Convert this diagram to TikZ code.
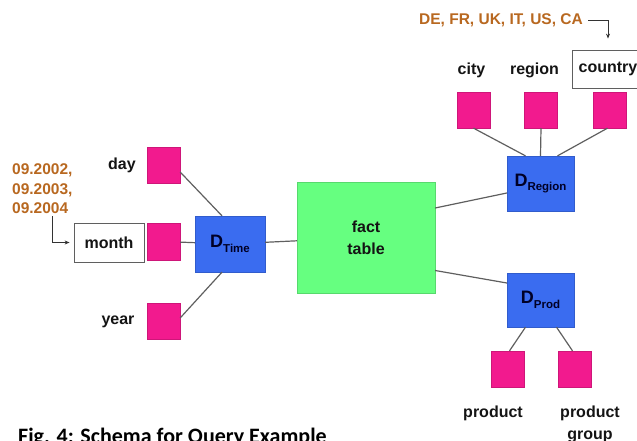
\documentclass[tikz,border=0pt]{standalone}
\usepackage{fontspec}
\setmainfont{Liberation Sans}
\newfontfamily\capfont{Carlito}
\usetikzlibrary{arrows.meta}
\definecolor{factgreen}{RGB}{102,255,128}
\definecolor{dimblue}{RGB}{58,108,240}
\definecolor{attrpink}{RGB}{242,26,142}
\definecolor{valorange}{RGB}{184,104,32}
\definecolor{linegray}{RGB}{95,95,95}
\definecolor{txtdark}{RGB}{20,20,20}
\begin{document}
\begin{tikzpicture}[x=1pt,y=-1pt,
  fact/.style={rectangle,fill=factgreen,draw=factgreen!85!black,line width=0.3pt,minimum width=138pt,minimum height=111pt,inner sep=0pt,align=center,font=\fontsize{16}{22}\selectfont\bfseries,text=txtdark},
  dimbox/.style={rectangle,fill=dimblue,draw=dimblue!85!black,line width=0.3pt,minimum width=68pt,minimum height=55pt,inner sep=0pt,text=black!85!blue},
  attr/.style={rectangle,fill=attrpink,draw=attrpink!85!black,line width=0.3pt,minimum width=33pt,minimum height=36pt,inner sep=0pt},
  lbl/.style={font=\fontsize{16}{22}\selectfont\bfseries,text=txtdark,inner sep=0pt,align=center},
  framebox/.style={rectangle,draw=linegray,line width=0.8pt,fill=white,inner sep=0pt,font=\fontsize{16}{22}\selectfont\bfseries,text=txtdark},
  vals/.style={font=\fontsize{15.5}{19.5}\selectfont\bfseries,text=valorange,inner sep=0pt,align=left},
  conn/.style={draw=linegray,line width=1.2pt},
  pointer/.style={draw=black!80,line width=0.9pt,-{Stealth[length=5pt,width=4pt]}}
]
\useasboundingbox (0,0) rectangle (637,441);

% fact table
\node[fact] (fact) at (366,237.5) {fact\\table};

% dimensions
\newcommand{\dimlabel}[1]{{\fontsize{18}{18}\selectfont\bfseries D}\raisebox{-4.5pt}{\fontsize{11.5}{11.5}\selectfont\bfseries #1}}
\node[dimbox,minimum width=70pt,minimum height=56pt] (dtime) at (230,244) {\dimlabel{Time}};
\node[dimbox,minimum width=67pt] (dregion) at (540.5,183.5) {\dimlabel{Region}};
\node[dimbox,minimum width=67pt,minimum height=54pt] (dprod) at (540.5,300) {\dimlabel{Prod}};

% time attributes
\node[attr] (day) at (163.5,165) {};
\node[attr,minimum height=37pt] (monthsq) at (163.5,241.5) {};
\node[attr] (year) at (163.5,321) {};
\node[lbl] (daylbl) at (122,165) {day};
\node[lbl] (yearlbl) at (118,322) {year};
\node[framebox,minimum width=70pt,minimum height=39pt] (month) at (109,242.5) {month};

% region attributes
\node[attr] (city) at (473.5,110) {};
\node[attr] (region) at (541,110) {};
\node[attr] (countrysq) at (609.5,110) {};
\node[lbl] (citylbl) at (471.5,70) {city};
\node[lbl] (regionlbl) at (534.5,70) {region};
\node[framebox,minimum width=72pt,minimum height=38pt] (country) at (608,69) {country};

% product attributes
\node[attr] (product) at (507.5,369) {};
\node[attr] (pgroup) at (574.5,369) {};
\node[lbl] (productlbl) at (493,413) {product};
\node[lbl,anchor=north] (pgrouplbl) at (590,406) {product\\group};

% value annotations
\node[vals,anchor=west] (dates) at (12,189) {09.2002,\\09.2003,\\09.2004};
\node[vals,anchor=east] (countries) at (583,20) {DE, FR, UK, IT, US, CA};

\draw[pointer,shorten >=4pt] ([xshift=40pt,yshift=-2pt]dates.south west) |- (month.west);
\draw[pointer,shorten >=11pt] ([xshift=5pt]countries.east) -| (country.north);

% connectors
\draw[conn] (dtime) -- (fact);
\draw[conn] (monthsq) -- (dtime);
\draw[conn] ([yshift=-7pt]day.east) -- ([xshift=-8pt]dtime.north);
\draw[conn] ([yshift=3pt]year.east) -- ([xshift=-8pt]dtime.south);
\draw[conn] ([yshift=29.5pt]fact.east) -- ([yshift=-9.5pt]dregion.west);
\draw[conn] ([yshift=-33pt]fact.east) -- ([yshift=17pt]dprod.west);
\draw[conn] (city.south) -- ([xshift=-15pt]dregion.north);
\draw[conn] (region.south) -- (dregion.north);
\draw[conn] ([xshift=-2pt]countrysq.south) -- ([xshift=17pt]dregion.north);
\draw[conn] ([xshift=-15pt]dprod.south) -- ([xshift=2pt]product.north);
\draw[conn] ([xshift=16pt]dprod.south) -- ([xshift=-2pt]pgroup.north);

% caption
\node[anchor=base west,inner sep=0pt,font=\capfont\fontsize{22}{26}\selectfont\bfseries,text=black] (caption) at (18,443) {Fig. 4: Schema for Query Example};
\end{tikzpicture}
\end{document}
